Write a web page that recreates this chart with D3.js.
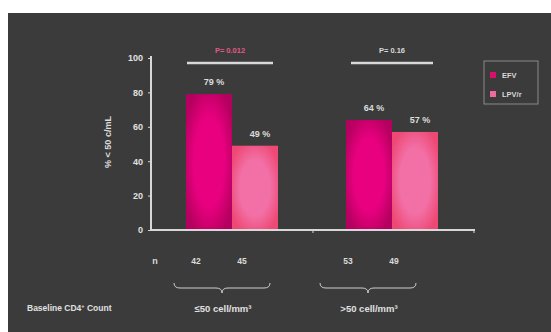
<!DOCTYPE html>
<html><head><meta charset="utf-8">
<script src="https://cdn.jsdelivr.net/npm/d3@7/dist/d3.min.js"></script>
<style>
html,body{margin:0;padding:0;background:#fff;}
svg{display:block;}
text{font-family:"Liberation Sans",Arial,sans-serif;font-weight:bold;}
</style></head>
<body>
<script>
const groups = ["≤50 cell/mm³", ">50 cell/mm³"];
const series = ["EFV", "LPV/r"];
const efvValues = [79, 64];
const lpvValues = [49, 57];
const nEFV = [42, 53];
const nLPV = [45, 49];
const pValues = ["P= 0.012", "P= 0.16"];
const yTicks = [0, 20, 40, 60, 80, 100];

const W = 551, H = 332;
const svg = d3.select("body").append("svg").attr("width", W).attr("height", H);
const defs = svg.append("defs");

function radial(id, inner, outer) {
  const g = defs.append("radialGradient").attr("id", id).attr("cx", "50%").attr("cy", "50%").attr("r", "60%");
  g.append("stop").attr("offset", "0%").attr("stop-color", inner);
  g.append("stop").attr("offset", "55%").attr("stop-color", inner);
  g.append("stop").attr("offset", "100%").attr("stop-color", outer);
}
radial("gEFV", "#e8007f", "#b4005e");
radial("gLPV", "#f270a6", "#ee4874");

svg.append("rect").attr("x", 8).attr("y", 13).attr("width", W - 8).attr("height", H - 13).attr("fill", "#3b3b3b");

const y = d3.scaleLinear().domain([0, 100]).range([230, 58]);
const gx = d3.scalePoint().domain(groups).range([232, 392]);
const sx = d3.scaleBand().domain(series).range([-46, 46]).padding(0);
const color = {"EFV": "url(#gEFV)", "LPV/r": "url(#gLPV)"};
const legendColor = {"EFV": "#d8106a", "LPV/r": "#f06a9e"};

const data = [];
groups.forEach((g, i) => {
  data.push({g, gi: i, s: "EFV", v: efvValues[i], n: nEFV[i]});
  data.push({g, gi: i, s: "LPV/r", v: lpvValues[i], n: nLPV[i]});
});

// bars
svg.selectAll("rect.bar").data(data).enter().append("rect")
  .attr("class", "bar")
  .attr("x", d => gx(d.g) + sx(d.s))
  .attr("width", sx.bandwidth())
  .attr("y", d => y(d.v))
  .attr("height", d => y(0) - y(d.v))
  .attr("fill", d => color[d.s]);

// value labels
svg.selectAll("text.val").data(data).enter().append("text")
  .attr("x", d => gx(d.g) + sx(d.s) + sx.bandwidth() / 2 + 5)
  .attr("y", d => y(d.v) - 9)
  .attr("text-anchor", "middle")
  .attr("fill", "#dcdcdc").attr("font-size", 9)
  .text(d => d.v + " %");

// y axis
const yAxis = d3.axisLeft(y).tickValues(yTicks).tickSize(3).tickPadding(5);
const ya = svg.append("g").attr("transform", "translate(151,0)").call(yAxis);
ya.select(".domain").attr("stroke", "#d8d8d8").attr("stroke-width", 2).attr("d", "M0,56V230");
ya.selectAll(".tick line").attr("stroke", "#d8d8d8");
ya.selectAll(".tick text").attr("fill", "#e0e0e0").attr("font-size", 9).attr("font-family", "Liberation Sans, Arial, sans-serif").attr("font-weight", "bold");

// x axis line
svg.append("line").attr("x1", 150).attr("x2", 475).attr("y1", y(0)).attr("y2", y(0))
  .attr("stroke", "#d8d8d8").attr("stroke-width", 2);
[313, 474].forEach(xx => svg.append("line").attr("x1", xx).attr("x2", xx).attr("y1", y(0)).attr("y2", y(0) + 3).attr("stroke", "#d8d8d8"));

// y label
svg.append("text").attr("transform", "translate(111,142) rotate(-90)")
  .attr("text-anchor", "middle").attr("fill", "#dcdcdc").attr("font-size", 9)
  .text("% < 50 c/mL");

// p-value bars
groups.forEach((g, i) => {
  const x0 = gx(g) + sx("EFV") + (i === 0 ? 1 : 5), x1 = gx(g) + sx("LPV/r") + sx.bandwidth() - 5;
  svg.append("line").attr("x1", x0).attr("x2", x1).attr("y1", 63).attr("y2", 63)
    .attr("stroke", "#d8d8d8").attr("stroke-width", 2.5);
  svg.append("text").attr("x", (x0 + x1) / 2).attr("y", 53).attr("text-anchor", "middle")
    .attr("font-size", 7.5).attr("fill", i === 0 ? "#e05a86" : "#d8d8d8").text(pValues[i]);
});

// legend
svg.append("rect").attr("x", 484).attr("y", 61).attr("width", 54).attr("height", 43)
  .attr("fill", "none").attr("stroke", "#8a8a8a").attr("stroke-width", 1);
series.forEach((s, i) => {
  const ly = 75 + i * 19;
  svg.append("rect").attr("x", 490).attr("y", ly - 3).attr("width", 6).attr("height", 6).attr("fill", legendColor[s]);
  svg.append("text").attr("x", 502).attr("y", ly + 3).attr("font-size", 7.5).attr("fill", "#d8d8d8").text(s);
});

// n row
svg.append("text").attr("x", 155).attr("y", 264).attr("text-anchor", "middle").attr("font-size", 9).attr("fill", "#dcdcdc").text("n");
svg.selectAll("text.n").data(data).enter().append("text")
  .attr("x", d => gx(d.g) + sx(d.s) + sx.bandwidth() / 2 - (d.gi === 0 ? 13 : 21))
  .attr("y", 264).attr("text-anchor", "middle").attr("font-size", 8.5).attr("fill", "#dcdcdc")
  .text(d => d.n);

// braces
groups.forEach((g, i) => {
  const c = gx(g) + (i === 0 ? -10 : -24), hw = 48, top = 283, bot = 290;
  const p = `M${c - hw},${top} Q${c - hw},${bot - 2} ${c - hw + 6},${bot - 2} L${c - 6},${bot - 2} Q${c},${bot - 2} ${c},${bot + 3} Q${c},${bot - 2} ${c + 6},${bot - 2} L${c + hw - 6},${bot - 2} Q${c + hw},${bot - 2} ${c + hw},${top}`;
  svg.append("path").attr("d", p).attr("fill", "none").attr("stroke", "#cfcfcf").attr("stroke-width", 1);
  svg.append("text").attr("x", c + 1).attr("y", 312).attr("text-anchor", "middle")
    .attr("font-size", 9.5).attr("fill", "#e0e0e0").text(g);
});

const bl = svg.append("text").attr("x", 27).attr("y", 311).attr("font-size", 8.5).attr("fill", "#e0e0e0");
bl.append("tspan").text("Baseline CD4");
bl.append("tspan").attr("dy", -3).attr("font-size", 5.5).text("+");
bl.append("tspan").attr("dy", 3).text(" Count");
</script>
</body></html>
